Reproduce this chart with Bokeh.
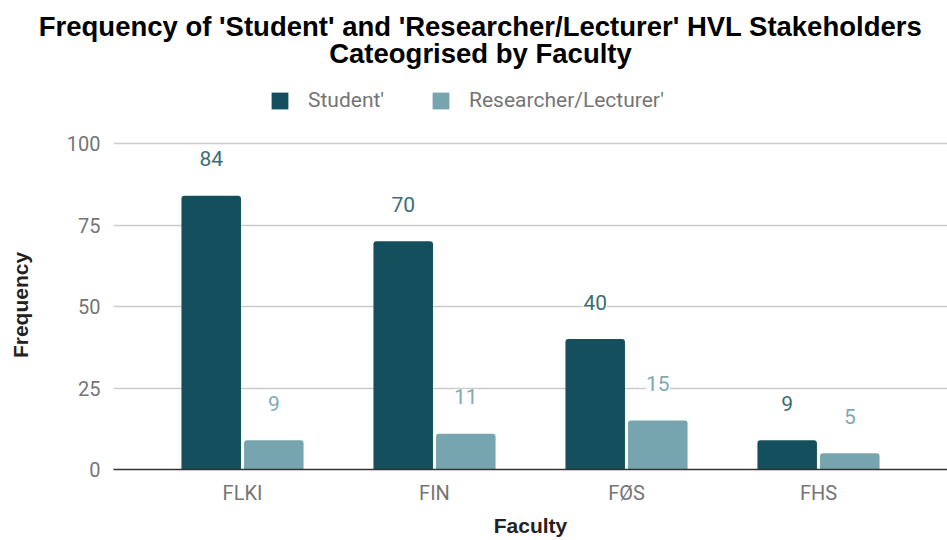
from bokeh.plotting import figure
from bokeh.layouts import column
from bokeh.models import (FactorRange, Range1d, FixedTicker, Legend, LegendItem,
                          Label, LabelSet, ColumnDataSource)
from bokeh.core.properties import value
from bokeh.transform import dodge
from bokeh.embed import file_html
from bokeh.resources import INLINE

# ---- data ----
faculties = ["FLKI", "FIN", "FØS", "FHS"]
student = [84, 70, 40, 9]
researcher = [9, 11, 15, 5]
series_names = ["Student'", "Researcher/Lecturer'"]
y_ticks = [0, 25, 50, 75, 100]
title_lines = ["Frequency of 'Student' and 'Researcher/Lecturer' HVL Stakeholders",
               "Cateogrised by Faculty"]
x_title = "Faculty"
y_title = "Frequency"

DARK = "#134f5c"
LIGHT = "#76a5af"

# layout constants (pixels)
W = 947
HEADER_H = 128          # header figure: titles + legend
MAIN_H = 540 - HEADER_H # main chart figure
MAIN_TOP = 12           # border above the main frame
FRAME_BOTTOM = 469 - HEADER_H   # y of the zero line inside the main figure
PX_PER_UNIT = 3.26
y_end = (FRAME_BOTTOM - MAIN_TOP) / PX_PER_UNIT

src = ColumnDataSource(dict(
    fac=faculties,
    student=student,
    researcher=researcher,
    student_lbl=[str(v) for v in student],
    researcher_lbl=[str(v) for v in researcher],
))

x_range = FactorRange(factors=faculties, range_padding=0.086, range_padding_units="percent")

# ---------------- header (titles + legend) ----------------
hdr = figure(width=W, height=HEADER_H, x_axis_type=None, y_axis_type=None,
             x_range=x_range, y_range=Range1d(1000, 1000 + HEADER_H),
             output_backend="svg", toolbar_location=None,
             min_border_left=0, min_border_right=0, min_border_top=0, min_border_bottom=0)
if "frame_align" in hdr.properties():
    hdr.frame_align = False
hdr.title = None
hdr.outline_line_color = None
hdr.grid.visible = False

title_baselines = [HEADER_H - 26, HEADER_H - 53]
for line, yb in zip(title_lines, title_baselines):
    hdr.add_layout(Label(x=480, y=yb, x_units="screen", y_units="screen", text=line,
                         text_align="center", text_baseline="alphabetic",
                         text_font="Liberation Sans", text_font_style="bold",
                         text_font_size="27.5px", text_color="#000000"))

# legend renderers: same data, lying below the header's visible y range
lr1 = hdr.vbar(x="fac", top="student", width=0.3, source=src, fill_color=DARK, line_color=None)
lr2 = hdr.vbar(x="fac", top="researcher", width=0.3, source=src, fill_color=LIGHT, line_color=None)
legend = Legend(items=[LegendItem(label=series_names[0], renderers=[lr1]),
                       LegendItem(label=series_names[1], renderers=[lr2])],
                location=(269, HEADER_H - 112), orientation="horizontal", padding=0, margin=0,
                spacing=46, label_standoff=18, glyph_width=21, glyph_height=21,
                label_text_font="Roboto", label_text_font_size="21px",
                label_text_color="#757575", border_line_color=None, background_fill_alpha=0)
hdr.add_layout(legend)

# ---------------- main chart ----------------
p = figure(
    x_range=x_range,
    y_range=Range1d(0, y_end),
    width=W, height=MAIN_H,
    output_backend="svg", toolbar_location=None,
    min_border_left=113, min_border_right=0, min_border_top=MAIN_TOP,
    min_border_bottom=MAIN_H - FRAME_BOTTOM,
)
p.title = None
p.outline_line_color = None
p.background_fill_color = "white"
p.border_fill_color = "white"

off = 0.163
bw = 0.31
p.vbar(x=dodge("fac", -off, range=p.x_range), top="student", width=bw, source=src,
       fill_color=DARK, line_color=None, border_radius=(3, 3, 0, 0))
p.vbar(x=dodge("fac", off, range=p.x_range), top="researcher", width=bw, source=src,
       fill_color=LIGHT, line_color=None, border_radius=(3, 3, 0, 0))

lbl_common = dict(source=src, y_offset=37, text_align="center", text_baseline="middle",
                  text_font=value("Roboto"), text_font_size=value("21px"),
                  background_fill_color="white")
p.add_layout(LabelSet(x=dodge("fac", -off, range=p.x_range), y="student", text="student_lbl",
                      text_color="#3d6c77", **lbl_common))
p.add_layout(LabelSet(x=dodge("fac", off, range=p.x_range), y="researcher", text="researcher_lbl",
                      text_color="#7eaab4", **lbl_common))

# axes
p.yaxis.ticker = FixedTicker(ticks=y_ticks)
p.ygrid.ticker = FixedTicker(ticks=y_ticks)
p.yaxis.axis_line_color = None
p.yaxis.major_tick_line_color = None
p.yaxis.minor_tick_line_color = None
p.yaxis.major_tick_out = 0
p.yaxis.major_tick_in = 0
p.yaxis.major_label_text_font = "Roboto"
p.yaxis.major_label_text_font_size = "20px"
p.yaxis.major_label_text_color = "#757575"
p.yaxis.major_label_standoff = 13
p.yaxis.axis_label = y_title
p.yaxis.axis_label_text_font = "Liberation Sans"
p.yaxis.axis_label_text_font_style = "bold"
p.yaxis.axis_label_text_font_size = "21px"
p.yaxis.axis_label_text_color = "#222222"
p.yaxis.axis_label_standoff = 32

p.xaxis.axis_line_color = "#333333"
p.xaxis.axis_line_width = 1.5
p.xaxis.major_tick_line_color = None
p.xaxis.minor_tick_line_color = None
p.xaxis.major_tick_out = 0
p.xaxis.major_tick_in = 0
p.xaxis.major_label_text_font = "Roboto"
p.xaxis.major_label_text_font_size = "20px"
p.xaxis.major_label_text_color = "#757575"
p.xaxis.major_label_standoff = 11
p.xaxis.axis_label = x_title
p.xaxis.axis_label_text_font = "Liberation Sans"
p.xaxis.axis_label_text_font_style = "bold"
p.xaxis.axis_label_text_font_size = "21px"
p.xaxis.axis_label_text_color = "#222222"
p.xaxis.axis_label_standoff = 6

p.xgrid.grid_line_color = None
p.ygrid.grid_line_color = "#cccccc"
p.ygrid.grid_line_width = 1.5

layout = column(hdr, p, spacing=0)
open("out.html", "w").write(file_html(layout, INLINE))
